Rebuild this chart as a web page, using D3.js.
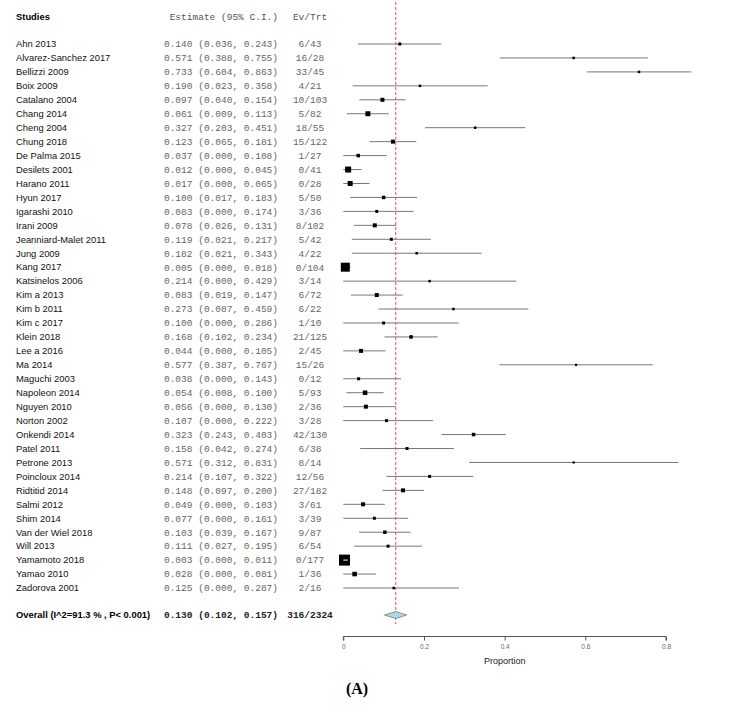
<!DOCTYPE html>
<html>
<head>
<meta charset="utf-8">
<script src="https://cdn.jsdelivr.net/npm/d3@7"></script>
<style>
  body { margin: 0; background: #fff; }
  svg { display: block; }
</style>
</head>
<body>
<svg width="734" height="707"></svg>
<script>
// study labels, in plot order
const studies = [
    "Ahn 2013", "Alvarez-Sanchez 2017", "Bellizzi 2009", "Boix 2009", "Catalano 2004",
    "Chang 2014", "Cheng 2004", "Chung 2018", "De Palma 2015", "Desilets 2001",
    "Harano 2011", "Hyun 2017", "Igarashi 2010", "Irani 2009", "Jeanniard-Malet 2011",
    "Jung 2009", "Kang 2017", "Katsinelos 2006", "Kim a 2013", "Kim b 2011",
    "Kim c 2017", "Klein 2018", "Lee a 2016", "Ma 2014", "Maguchi 2003",
    "Napoleon 2014", "Nguyen 2010", "Norton 2002", "Onkendi 2014", "Patel 2011",
    "Petrone 2013", "Poincloux 2014", "Ridtitid 2014", "Salmi 2012", "Shim 2014",
    "Van der Wiel 2018", "Will 2013", "Yamamoto 2018", "Yamao 2010", "Zadorova 2001"
];

const estimates = [
    0.140, 0.571, 0.733, 0.190, 0.097, 0.061, 0.327, 0.123, 0.037, 0.012,
    0.017, 0.100, 0.083, 0.078, 0.119, 0.182, 0.005, 0.214, 0.083, 0.273,
    0.100, 0.168, 0.044, 0.577, 0.038, 0.054, 0.056, 0.107, 0.323, 0.158,
    0.571, 0.214, 0.148, 0.049, 0.077, 0.103, 0.111, 0.003, 0.028, 0.125
];

const lowerCI = [
    0.036, 0.388, 0.604, 0.023, 0.040, 0.009, 0.203, 0.065, 0.000, 0.000,
    0.000, 0.017, 0.000, 0.026, 0.021, 0.021, 0.000, 0.000, 0.019, 0.087,
    0.000, 0.102, 0.000, 0.387, 0.000, 0.008, 0.000, 0.000, 0.243, 0.042,
    0.312, 0.107, 0.097, 0.000, 0.000, 0.039, 0.027, 0.000, 0.000, 0.000
];

const upperCI = [
    0.243, 0.755, 0.863, 0.358, 0.154, 0.113, 0.451, 0.181, 0.108, 0.045,
    0.065, 0.183, 0.174, 0.131, 0.217, 0.343, 0.018, 0.429, 0.147, 0.459,
    0.286, 0.234, 0.105, 0.767, 0.143, 0.100, 0.130, 0.222, 0.403, 0.274,
    0.831, 0.322, 0.200, 0.103, 0.161, 0.167, 0.195, 0.011, 0.081, 0.287
];

const evTrt = [
    "6/43", "16/28", "33/45", "4/21", "10/103", "5/82", "18/55", "15/122", "1/27", "0/41",
    "0/28", "5/50", "3/36", "8/102", "5/42", "4/22", "0/104", "3/14", "6/72", "6/22",
    "1/10", "21/125", "2/45", "15/26", "0/12", "5/93", "2/36", "3/28", "42/130", "6/38",
    "8/14", "12/56", "27/182", "3/61", "3/39", "9/87", "6/54", "0/177", "1/36", "2/16"
];

// relative study weights
const weights = [
    0.74, 0.52, 0.52, 0.52, 1.32, 2.07, 0.52, 1.32, 1.0, 2.98,
    2.07, 1.0, 0.74, 1.32, 0.74, 0.52, 6.7, 0.52, 1.32, 0.52,
    0.74, 1.0, 1.32, 0.4, 0.74, 1.7, 1.32, 0.74, 1.0, 0.74,
    0.4, 0.74, 1.32, 1.32, 0.74, 1.0, 0.74, 10, 1.7, 0.52
];

// pooled result
const overallLabel = "Overall (I^2=91.3 % , P< 0.001)";
const overallEst = 0.130;
const overallLow = 0.102;
const overallHigh = 0.157;
const overallEvTrt = "316/2324";

const xTicks = [0, 0.2, 0.4, 0.6, 0.8];

const svg = d3.select("svg");

const fmt = d3.format(".3f");
const monoFont = "'Liberation Mono', 'Courier New', monospace";
const sansFont = "'Liberation Sans', Arial, sans-serif";
const nameSize = "9.4px";
const monoSize = "9.5px";

// x scale for the proportion axis
const x = d3.scaleLinear()
    .domain([0, 0.8])
    .range([343.3, 666]);

// row positions
const y = d3.scalePoint()
    .domain(studies)
    .range([44, 588]);

const overallY = 615;

// box size from weight
const boxSize = d3.scaleSqrt()
    .domain([0, 10])
    .range([0, 11]);

const data = studies.map((s, i) => ({
    study: s,
    est: estimates[i],
    lo: lowerCI[i],
    hi: upperCI[i],
    ev: evTrt[i],
    w: weights[i]
}));

// column headers
svg.append("text")
    .attr("x", 16)
    .attr("y", 20)
    .attr("font-family", sansFont)
    .attr("font-size", nameSize)
    .attr("font-weight", "bold")
    .text("Studies");

svg.append("text")
    .attr("x", 278)
    .attr("y", 20)
    .attr("text-anchor", "end")
    .attr("font-family", monoFont)
    .attr("font-size", monoSize)
    .attr("fill", "#555")
    .text("Estimate (95% C.I.)");

svg.append("text")
    .attr("x", 310)
    .attr("y", 20)
    .attr("text-anchor", "middle")
    .attr("font-family", monoFont)
    .attr("font-size", monoSize)
    .attr("fill", "#555")
    .text("Ev/Trt");

// red dashed line at the pooled estimate
svg.append("line")
    .attr("x1", x(overallEst))
    .attr("x2", x(overallEst))
    .attr("y1", 2)
    .attr("y2", 624)
    .attr("stroke", "#e05050")
    .attr("stroke-width", 1)
    .attr("stroke-dasharray", "3,2");

const rows = svg.selectAll(".row")
    .data(data)
    .enter()
    .append("g")
    .attr("class", "row")
    .attr("transform", d => `translate(0, ${y(d.study)})`);

rows.append("text")
    .attr("x", 16)
    .attr("dy", "0.35em")
    .attr("font-family", sansFont)
    .attr("font-size", nameSize)
    .attr("fill", "#111")
    .text(d => d.study);

rows.append("text")
    .attr("x", 278)
    .attr("dy", "0.35em")
    .attr("text-anchor", "end")
    .attr("font-family", monoFont)
    .attr("font-size", monoSize)
    .attr("fill", "#666")
    .text(d => `${fmt(d.est)} (${fmt(d.lo)}, ${fmt(d.hi)})`);

rows.append("text")
    .attr("x", 310)
    .attr("dy", "0.35em")
    .attr("text-anchor", "middle")
    .attr("font-family", monoFont)
    .attr("font-size", monoSize)
    .attr("fill", "#666")
    .text(d => d.ev);

// confidence interval lines
rows.append("line")
    .attr("x1", d => x(d.lo))
    .attr("x2", d => x(d.hi))
    .attr("stroke", "#777")
    .attr("stroke-width", 1);

// weight boxes
rows.append("rect")
    .attr("x", d => x(d.est) - boxSize(d.w) / 2)
    .attr("y", d => -boxSize(d.w) / 2)
    .attr("width", d => boxSize(d.w))
    .attr("height", d => boxSize(d.w))
    .attr("fill", "#000");

// white interval line where the box covers the whole interval
rows.filter(d => boxSize(d.w) / 2 > Math.max(x(d.hi) - x(d.est), x(d.est) - x(d.lo)))
    .append("line")
    .attr("x1", d => x(d.lo))
    .attr("x2", d => x(d.hi))
    .attr("stroke", "#fff")
    .attr("stroke-width", 1);

// overall row
svg.append("text")
    .attr("x", 16)
    .attr("y", overallY)
    .attr("dy", "0.35em")
    .attr("font-family", sansFont)
    .attr("font-size", nameSize)
    .attr("font-weight", "bold")
    .text(overallLabel);

svg.append("text")
    .attr("x", 278)
    .attr("y", overallY)
    .attr("dy", "0.35em")
    .attr("text-anchor", "end")
    .attr("font-family", monoFont)
    .attr("font-size", monoSize)
    .attr("font-weight", "bold")
    .attr("fill", "#222")
    .text(`${fmt(overallEst)} (${fmt(overallLow)}, ${fmt(overallHigh)})`);

svg.append("text")
    .attr("x", 310)
    .attr("y", overallY)
    .attr("dy", "0.35em")
    .attr("text-anchor", "middle")
    .attr("font-family", monoFont)
    .attr("font-size", monoSize)
    .attr("font-weight", "bold")
    .attr("fill", "#222")
    .text(overallEvTrt);

// pooled diamond
const dh = 3.5;
svg.append("polygon")
    .attr("points", [
        [x(overallLow), overallY],
        [x(overallEst), overallY - dh],
        [x(overallHigh), overallY],
        [x(overallEst), overallY + dh]
    ].map(p => p.join(",")).join(" "))
    .attr("fill", "#add8e6")
    .attr("stroke", "#777")
    .attr("stroke-width", 0.8);

// x axis
const axis = svg.append("g")
    .attr("transform", "translate(0, 636.5)")
    .call(d3.axisBottom(x)
        .tickValues(xTicks)
        .tickSize(4)
        .tickFormat(d => d === 0 ? "0" : d3.format(".1f")(d)));

axis.select(".domain")
    .attr("stroke", "#555")
    .attr("d", `M${x(0)},4V0H${x(0.8)}V4`);

axis.selectAll(".tick line")
    .attr("stroke", "#555");

axis.selectAll(".tick text")
    .attr("font-family", sansFont)
    .attr("font-size", "6.5px")
    .attr("fill", "#666")
    .attr("dy", "0.9em");

svg.append("text")
    .attr("x", x(0.4))
    .attr("y", 664)
    .attr("text-anchor", "middle")
    .attr("font-family", sansFont)
    .attr("font-size", "9px")
    .attr("fill", "#222")
    .text("Proportion");

// panel label
svg.append("text")
    .attr("x", 357)
    .attr("y", 694)
    .attr("text-anchor", "middle")
    .attr("font-family", "'Liberation Serif', 'Times New Roman', serif")
    .attr("font-size", "16px")
    .attr("font-weight", "bold")
    .text("(A)");
</script>
</body>
</html>
